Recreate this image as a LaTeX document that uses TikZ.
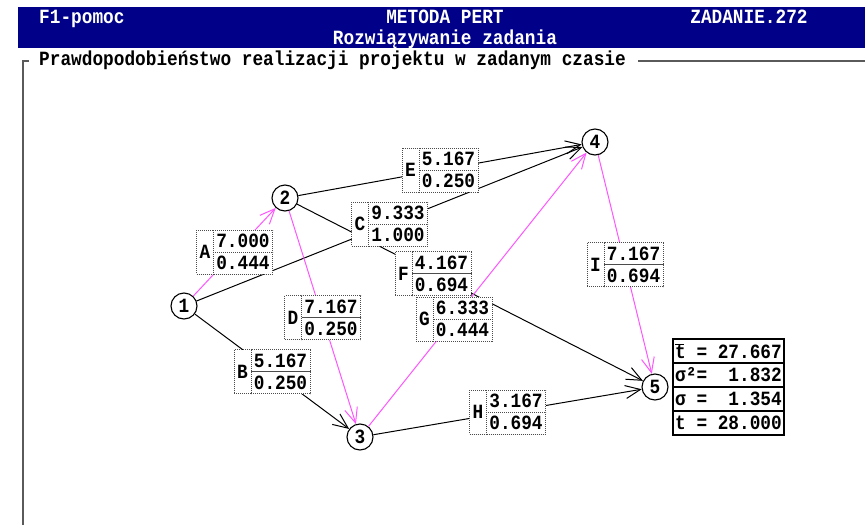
\documentclass[tikz,border=0pt]{standalone}
\usepackage{fontspec}
\setmonofont[FakeStretch=0.88]{Liberation Mono}
\usetikzlibrary{arrows.meta,calc,positioning}
\definecolor{dosblue}{RGB}{0,0,136}
\definecolor{critpink}{RGB}{255,85,255}
\definecolor{framegray}{RGB}{90,90,90}
\tikzset{
  dos/.style={font=\fontsize{20.2}{22}\selectfont\ttfamily\bfseries, inner sep=0pt},
  event/.style={dos, draw, circle, fill=white, minimum size=26pt, line width=1.1pt},
  act/.style={draw, line width=1pt, -{Straight Barb[length=15pt,width=13pt]}},
  critact/.style={act, draw=critpink},
  lettbox/.style={dos, draw=black!70, dash pattern=on 1pt off 1pt, fill=white,
    minimum width=17pt, minimum height=44pt, outer sep=0pt},
  valbox/.style={dos, draw=black!70, dash pattern=on 1pt off 1pt, fill=white,
    minimum width=59pt, minimum height=22pt, outer sep=0pt},
  sumbox/.style={dos, draw, line width=1.4pt, fill=white,
    minimum width=111pt, minimum height=24pt, outer sep=0pt},
}
\begin{document}
\begin{tikzpicture}[x=1pt,y=-1pt]
\useasboundingbox (0,0) rectangle (865,525);
% header
\fill[dosblue] (18,7) rectangle (865,48);
\node[dos, text=white, anchor=base west] (help) at (39,23) {F1-pomoc};
\node[dos, text=white, anchor=base] (method) at (445,23) {METODA PERT};
\node[dos, text=white, anchor=base] (task) at (749,23) {ZADANIE.272};
\node[dos, text=white, anchor=base] (solve) at (445,44) {Rozwiązywanie zadania};
\node[dos, anchor=base west] (title) at (39,65) {Prawdopodobieństwo realizacji projektu w zadanym czasie};
\draw[framegray, line width=1.5pt] (23,525) -- (23,61) -- (29,61);
\draw[framegray, line width=1.5pt] (638,61) -- (865,61);

% events
\node[event] (1) at (184,306) {1};
\node[event] (2) at (285,198) {2};
\node[event] (3) at (360,437) {3};
\node[event] (4) at (595,142) {4};
\node[event] (5) at (655,387) {5};

% activities
\path[act] (1) -- (3);
\path[act] (1) -- (4);
\path[act] (2) -- (4);
\path[act] (2) -- (5);
\path[act] (3) -- (5);
\path[critact] (1) -- (2);
\path[critact] (2) -- (3);
\path[critact] (3) -- (4);
\path[critact] (4) -- (5);

% labels: mean time and variance
\coordinate (cA) at ($(1)!0.5!(2)$);
\node[lettbox] (A) at ([xshift=-29.5pt]cA) {A};
\node[valbox, anchor=north west] (A1) at (A.north east) {7.000};
\node[valbox, anchor=south west] (A2) at (A.south east) {0.444};

\coordinate (cB) at ($(1)!0.5!(3)$);
\node[lettbox] (B) at ([xshift=-29.5pt]cB) {B};
\node[valbox, anchor=north west] (B1) at (B.north east) {5.167};
\node[valbox, anchor=south west] (B2) at (B.south east) {0.250};

\coordinate (cC) at ($(1)!0.5!(4)$);
\node[lettbox] (C) at ([xshift=-29.5pt]cC) {C};
\node[valbox, anchor=north west] (C1) at (C.north east) {9.333};
\node[valbox, anchor=south west] (C2) at (C.south east) {1.000};

\coordinate (cD) at ($(2)!0.5!(3)$);
\node[lettbox] (D) at ([xshift=-29.5pt]cD) {D};
\node[valbox, anchor=north west] (D1) at (D.north east) {7.167};
\node[valbox, anchor=south west] (D2) at (D.south east) {0.250};

\coordinate (cE) at ($(2)!0.5!(4)$);
\node[lettbox] (E) at ([xshift=-29.5pt]cE) {E};
\node[valbox, anchor=north west] (E1) at (E.north east) {5.167};
\node[valbox, anchor=south west] (E2) at (E.south east) {0.250};

\coordinate (cF) at ($(2)!0.4!(5)$);
\node[lettbox] (F) at ([xshift=-29.5pt]cF) {F};
\node[valbox, anchor=north west] (F1) at (F.north east) {4.167};
\node[valbox, anchor=south west] (F2) at (F.south east) {0.694};

\coordinate (cG) at ($(3)!0.4!(4)$);
\node[lettbox] (G) at ([xshift=-29.5pt]cG) {G};
\node[valbox, anchor=north west] (G1) at (G.north east) {6.333};
\node[valbox, anchor=south west] (G2) at (G.south east) {0.444};

\coordinate (cH) at ($(3)!0.5!(5)$);
\node[lettbox] (H) at ([xshift=-29.5pt]cH) {H};
\node[valbox, anchor=north west] (H1) at (H.north east) {3.167};
\node[valbox, anchor=south west] (H2) at (H.south east) {0.694};

\coordinate (cI) at ($(4)!0.5!(5)$);
\node[lettbox] (I) at ([xshift=-29.5pt]cI) {I};
\node[valbox, anchor=north west] (I1) at (I.north east) {7.167};
\node[valbox, anchor=south west] (I2) at (I.south east) {0.694};

% result table
\node[sumbox] (tmean) at (728.5,351) {\makebox[0pt][l]{\rule[13pt]{9pt}{1.2pt}}t = 27.667};
\node[sumbox, below=0pt of tmean] (tvar) {σ²=\ \ 1.832};
\node[sumbox, below=0pt of tvar] (tdev) {σ =\ \ 1.354};
\node[sumbox, below=0pt of tdev] (tdue) {t = 28.000};
\end{tikzpicture}
\end{document}
